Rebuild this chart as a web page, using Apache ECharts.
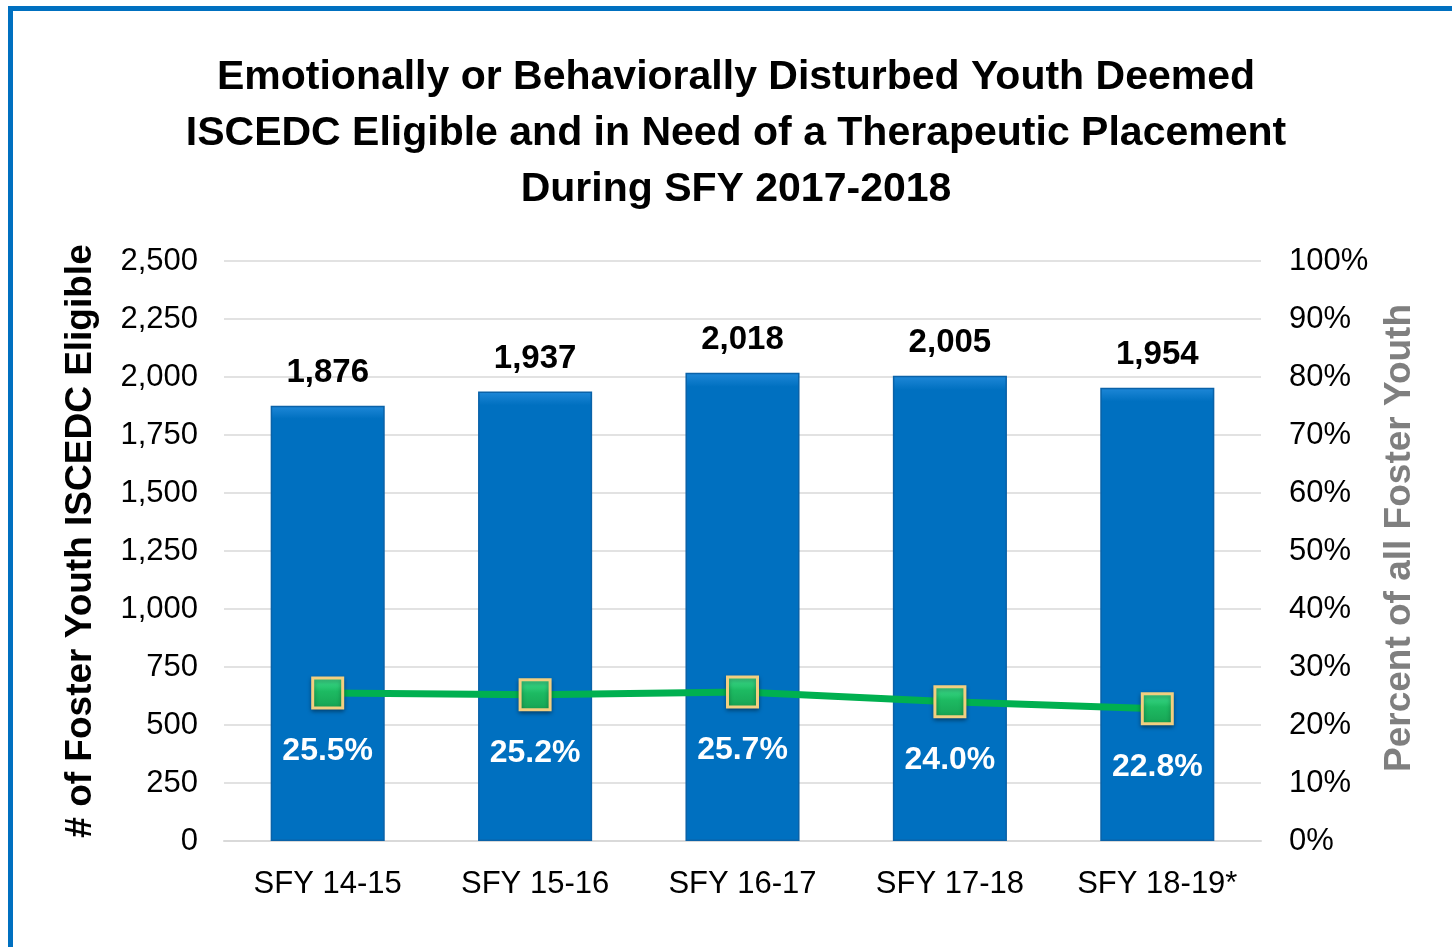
<!DOCTYPE html>
<html lang="en">
<head>
  <meta charset="UTF-8">
  <title>iscedc_chart</title>
  <script src="https://cdn.jsdelivr.net/npm/echarts@6/dist/echarts.min.js"></script>
  <style>
    *{
      margin:0;
      padding:0;
    }
    body{
      width: 1452px;
      height: 947px;
      background: #fff;
      overflow: hidden;
    }
    .frame{
      position: absolute;
      left: 8px;
      top: 6px;
      width: 1460px;
      height: 960px;
      border-left: 5px solid #0070c0;
      border-top: 5px solid #0070c0;
    }
    .container{
      position: absolute;
      left: 0;
      top: 0;
      width: 1452px;
      height: 947px;
    }
  </style>
</head>
<body>
  <div class="frame"></div>
  <div class="container"></div>

  <script type="text/javascript">
    var categories = ['SFY 14-15', 'SFY 15-16', 'SFY 16-17', 'SFY 17-18', 'SFY 18-19*']
    var eligibleCounts = [1876, 1937, 2018, 2005, 1954]
    var percentOfAll = [25.5, 25.2, 25.7, 24.0, 22.8]

    var fontFam = '"Liberation Sans", Arial, sans-serif'

    const mCharts = echarts.init(document.querySelector('.container'))
    var option = {
      animation: false,
      title: {
        text: 'Emotionally or Behaviorally Disturbed Youth Deemed\nISCEDC Eligible and in Need of a Therapeutic Placement\nDuring SFY 2017-2018',
        left: 731,
        textAlign: 'center',
        top: 45,
        textStyle: {
          fontFamily: fontFam,
          fontSize: 41,
          fontWeight: 'bold',
          color: '#000',
          lineHeight: 56
        }
      },
      grid: {
        left: 224,
        right: 191,
        top: 261,
        bottom: 106
      },
      xAxis: {
        type: 'category',
        data: categories,
        axisLine: { lineStyle: { color: '#d9d9d9', width: 2 } },
        axisTick: { show: false },
        axisLabel: {
          interval: 0,
          fontFamily: fontFam,
          fontSize: 31,
          color: '#000',
          margin: 28
        }
      },
      yAxis: [
        {
          type: 'value',
          min: 0,
          max: 2500,
          interval: 250,
          name: '# of Foster Youth ISCEDC Eligible',
          nameLocation: 'middle',
          nameGap: 125,
          nameTextStyle: {
            fontFamily: fontFam,
            fontSize: 37,
            fontWeight: 'bold',
            color: '#000',
            padding: [0, 0, 0, 20]
          },
          axisLine: { show: false },
          axisTick: { show: false },
          splitLine: { lineStyle: { color: '#d9d9d9', width: 1.5 } },
          axisLabel: {
            fontFamily: fontFam,
            fontSize: 31,
            color: '#000',
            margin: 26,
            formatter: function (v) { return v.toLocaleString('en-US') }
          }
        },
        {
          type: 'value',
          min: 0,
          max: 100,
          interval: 10,
          name: 'Percent of all Foster Youth',
          nameLocation: 'middle',
          nameGap: 120,
          nameRotate: 90,
          nameTextStyle: {
            fontFamily: fontFam,
            fontSize: 37,
            fontWeight: 'bold',
            color: '#7f7f7f',
            padding: [0, 0, 0, 26]
          },
          axisLine: { show: false },
          axisTick: { show: false },
          splitLine: { show: false },
          axisLabel: {
            fontFamily: fontFam,
            fontSize: 31,
            color: '#000',
            margin: 28,
            formatter: '{value}%'
          }
        }
      ],
      series: [
        {
          type: 'bar',
          data: eligibleCounts,
          barWidth: '55%',
          itemStyle: {
            color: new echarts.graphic.LinearGradient(0, 0, 0, 1, [
              { offset: 0, color: '#1f88d8' },
              { offset: 0.03, color: '#0070c0' },
              { offset: 1, color: '#0070c0' }
            ]),
            borderColor: '#0a62a8',
            borderWidth: 1.5
          },
          label: {
            show: true,
            position: 'top',
            distance: 16,
            fontFamily: fontFam,
            fontSize: 33,
            fontWeight: 'bold',
            color: '#000',
            formatter: function (p) { return p.value.toLocaleString('en-US') }
          }
        },
        {
          type: 'line',
          yAxisIndex: 1,
          data: percentOfAll,
          symbol: 'rect',
          symbolSize: 30,
          lineStyle: { color: '#00b050', width: 7 },
          itemStyle: {
            color: new echarts.graphic.LinearGradient(0, 0, 0, 1, [
              { offset: 0, color: '#45e596' },
              { offset: 0.45, color: '#1dba62' },
              { offset: 1, color: '#17a253' }
            ]),
            borderColor: '#f2cf80',
            borderWidth: 3,
            shadowColor: 'rgba(0,0,0,0.35)',
            shadowBlur: 4,
            shadowOffsetY: 2
          },
          label: {
            show: true,
            position: 'bottom',
            distance: 26,
            fontFamily: fontFam,
            fontSize: 32,
            fontWeight: 'bold',
            color: '#fff',
            formatter: function (p) { return p.value.toFixed(1) + '%' }
          },
          z: 5
        }
      ]
    }
    mCharts.setOption(option)
    window.onresize = mCharts.resize
  </script>
</body>
</html>
